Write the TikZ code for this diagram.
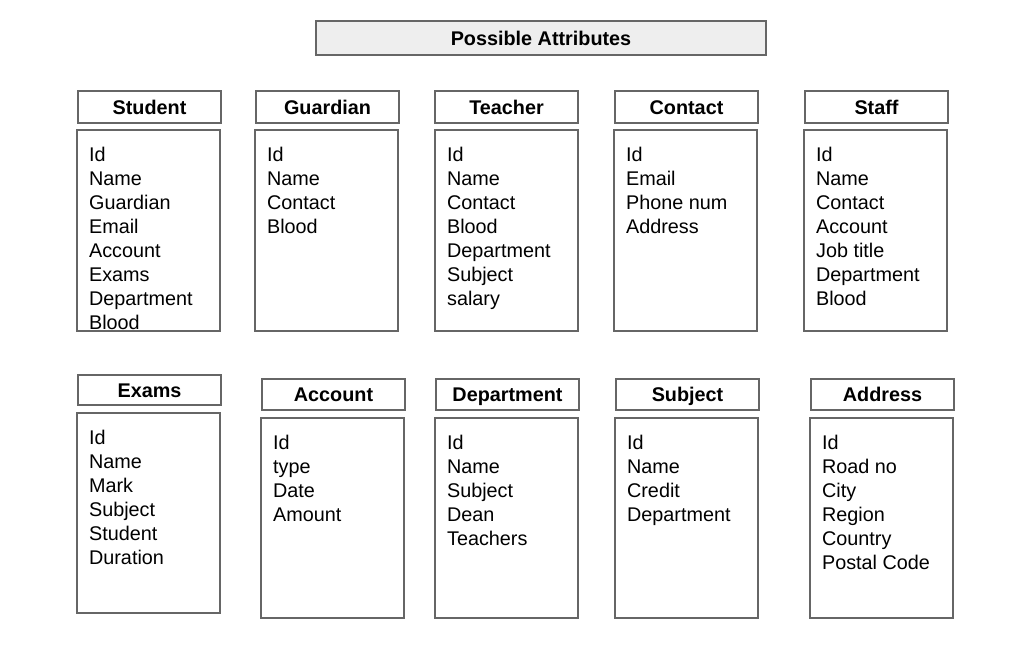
\documentclass[tikz,border=0pt]{standalone}
\usepackage{fontspec}
\setmainfont{Liberation Sans}
\usepackage{tikz}
\usetikzlibrary{positioning}
\definecolor{linegray}{RGB}{102,102,102}
\definecolor{titlegray}{RGB}{238,238,238}
\tikzset{head node/.style={rectangle,draw=linegray,line width=1.2pt,fill=white,minimum width=143pt,minimum height=32pt,inner sep=0pt,text height=14.5pt,text depth=0pt,font=\fontsize{19.8}{24}\selectfont\bfseries}}
\tikzset{body node/.style={rectangle,draw=linegray,line width=1.2pt,minimum width=143pt,minimum height=201pt,inner sep=0pt}}
\tikzset{list node/.style={anchor=north west,inner sep=0pt,align=left,font=\fontsize{19.8}{24}\selectfont}}

\begin{document}
\begin{tikzpicture}[x=1pt,y=-1pt]
    	\useasboundingbox (0,0) rectangle (1016,649);
    	\node[head node,minimum width=450pt,minimum height=34pt,fill=titlegray] (title) at (541,38) {Possible Attributes};

    	% first row
    	\node[head node] (student) at (149.5,107) {Student};
    	\node[head node] (guardian) at (327.5,107) {Guardian};
    	\node[head node] (teacher) at (506.5,107) {Teacher};
    	\node[head node] (contact) at (686.5,107) {Contact};
    	\node[head node] (staff) at (876.5,107) {Staff};

    	\node[body node] (student_b) at (148.5,230.5) {};
    	\node[body node] (guardian_b) at (326.5,230.5) {};
    	\node[body node] (teacher_b) at (506.5,230.5) {};
    	\node[body node] (contact_b) at (685.5,230.5) {};
    	\node[body node] (staff_b) at (875.5,230.5) {};

    	\node[list node] (student_l) at ([shift={(12.5,18)}]student_b.north west) {Id\\Name\\Guardian\\Email\\Account\\Exams\\Department\\Blood};
    	\node[list node] (guardian_l) at ([shift={(12.5,18)}]guardian_b.north west) {Id\\Name\\Contact\\Blood};
    	\node[list node] (teacher_l) at ([shift={(12.5,18)}]teacher_b.north west) {Id\\Name\\Contact\\Blood\\Department\\Subject\\salary};
    	\node[list node] (contact_l) at ([shift={(12.5,18)}]contact_b.north west) {Id\\Email\\Phone num\\Address};
    	\node[list node] (staff_l) at ([shift={(12.5,18)}]staff_b.north west) {Id\\Name\\Contact\\Account\\Job title\\Department\\Blood};

    	% second row
    	\node[head node,minimum height=30pt] (exams) at (149.5,390) {Exams};
    	\node[head node,minimum height=31pt] (account) at (333.5,394.5) {Account};
    	\node[head node,minimum height=31pt] (department) at (507.5,394.5) {Department};
    	\node[head node,minimum height=31pt] (subject) at (687.5,394.5) {Subject};
    	\node[head node,minimum height=31pt] (address) at (882.5,394.5) {Address};

    	\node[body node,minimum height=200pt] (exams_b) at (148.5,513) {};
    	\node[body node,minimum height=200pt] (account_b) at (332.5,518) {};
    	\node[body node,minimum height=200pt] (department_b) at (506.5,518) {};
    	\node[body node,minimum height=200pt] (subject_b) at (686.5,518) {};
    	\node[body node,minimum height=200pt] (address_b) at (881.5,518) {};

    	\node[list node] (exams_l) at ([shift={(12.5,18)}]exams_b.north west) {Id\\Name\\Mark\\Subject\\Student\\Duration};
    	\node[list node] (account_l) at ([shift={(12.5,18)}]account_b.north west) {Id\\type\\Date\\Amount};
    	\node[list node] (department_l) at ([shift={(12.5,18)}]department_b.north west) {Id\\Name\\Subject\\Dean\\Teachers};
    	\node[list node] (subject_l) at ([shift={(12.5,18)}]subject_b.north west) {Id\\Name\\Credit\\Department};
    	\node[list node] (address_l) at ([shift={(12.5,18)}]address_b.north west) {Id\\Road no\\City\\Region\\Country\\Postal Code};
    \end{tikzpicture}
\end{document}
